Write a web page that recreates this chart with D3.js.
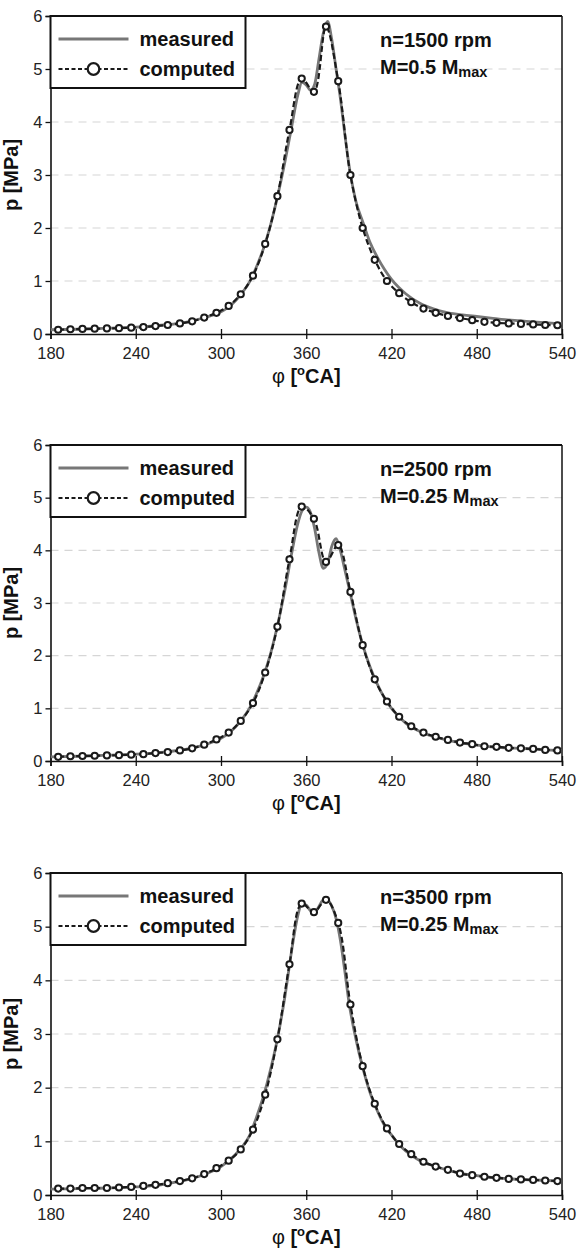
<!DOCTYPE html>
<html lang="en">
<head>
  <meta charset="UTF-8" />
  <title>Cylinder pressure: measured vs computed</title>
  <script src="https://d3js.org/d3.v7.min.js"></script>
  <style>
    body { margin: 0; background: #fff; font-family: "Liberation Sans", Arial, sans-serif; }
    .tick text { font-size: 16.5px; fill: #222; }
    .grid line { stroke: #d6d6d6; stroke-dasharray: 8,6; stroke-width: 1.2; }
    .lbl { font-weight: bold; font-size: 20px; fill: #111; }
  </style>
</head>
<body>
  <svg width="577" height="1257"></svg>
  <script>
    // crank angle ticks and pressure ticks
    const xTicks = [180, 240, 300, 360, 420, 480, 540];
    const yTicks = [0, 1, 2, 3, 4, 5, 6];

    // angles of the computed points (markers)
    const compAngles = [185.4, 194.0, 202.5, 211.1, 219.7, 228.2, 236.8, 245.4, 253.9, 262.5,
      271.1, 279.7, 288.2, 296.8, 305.4, 313.9, 322.5, 331.1, 339.7, 348.2,
      356.8, 365.4, 373.9, 382.5, 391.1, 399.7, 408.2, 416.8, 425.4, 433.9,
      442.5, 451.1, 459.7, 468.2, 476.8, 485.4, 493.9, 502.5, 511.1, 519.7, 528.2, 536.8];

    // angles of the measured trace
    const measAngles = [180, 200, 220, 240, 260, 270, 280, 290, 300, 305,
      310, 315, 320, 325, 330, 335, 340, 345, 350, 354,
      357, 360, 363, 366, 369, 372, 375, 378, 381, 384,
      387, 390, 395, 400, 405, 410, 415, 420, 425, 430,
      440, 450, 460, 470, 480, 490, 500, 510, 520, 530, 540];

    // n=1500 rpm, M=0.5 Mmax
    const computed1500 = [0.08, 0.09, 0.095, 0.1, 0.105, 0.11, 0.12, 0.13, 0.15, 0.17,
      0.2, 0.24, 0.31, 0.4, 0.53, 0.75, 1.1, 1.7, 2.6, 3.85,
      4.82, 4.57, 5.8, 4.77, 3.0, 2.0, 1.4, 1.0, 0.77, 0.6,
      0.48, 0.4, 0.34, 0.3, 0.26, 0.23, 0.21, 0.2, 0.19, 0.18, 0.17, 0.165];
    const measured1500 = [0.08, 0.09, 0.11, 0.13, 0.17, 0.2, 0.25, 0.32, 0.42, 0.5,
      0.62, 0.78, 0.98, 1.27, 1.62, 2.07, 2.62, 3.25, 3.95, 4.5,
      4.75, 4.7, 4.6, 4.72, 5.2, 5.68, 5.9, 5.55, 5.0, 4.45,
      3.8, 3.2, 2.5, 2.1, 1.72, 1.45, 1.22, 1.03, 0.88, 0.76,
      0.58, 0.47, 0.4, 0.36, 0.33, 0.3, 0.27, 0.25, 0.23, 0.21, 0.19];

    // n=2500 rpm, M=0.25 Mmax
    const computed2500 = [0.08, 0.09, 0.095, 0.1, 0.105, 0.11, 0.12, 0.13, 0.15, 0.17,
      0.2, 0.24, 0.31, 0.41, 0.54, 0.76, 1.1, 1.68, 2.55, 3.83,
      4.83, 4.6, 3.78, 4.1, 3.21, 2.2, 1.55, 1.13, 0.84, 0.66,
      0.54, 0.46, 0.4, 0.35, 0.32, 0.28, 0.27, 0.25, 0.24, 0.23, 0.21, 0.2];
    const measured2500 = [0.08, 0.09, 0.11, 0.13, 0.17, 0.2, 0.25, 0.32, 0.43, 0.52,
      0.64, 0.8, 1.0, 1.28, 1.62, 2.05, 2.6, 3.25, 3.98, 4.5,
      4.75, 4.82, 4.72, 4.4, 3.95, 3.66, 3.75, 4.08, 4.22, 4.0,
      3.65, 3.3, 2.7, 2.18, 1.78, 1.46, 1.2, 1.0, 0.85, 0.72,
      0.56, 0.46, 0.39, 0.34, 0.3, 0.27, 0.25, 0.24, 0.23, 0.21, 0.2];

    // n=3500 rpm, M=0.25 Mmax
    const computed3500 = [0.12, 0.12, 0.13, 0.13, 0.13, 0.14, 0.15, 0.17, 0.19, 0.22,
      0.26, 0.31, 0.39, 0.5, 0.64, 0.85, 1.22, 1.87, 2.9, 4.3,
      5.43, 5.27, 5.5, 5.07, 3.55, 2.4, 1.7, 1.24, 0.95, 0.76,
      0.62, 0.53, 0.47, 0.4, 0.37, 0.34, 0.32, 0.3, 0.29, 0.28, 0.27, 0.26];
    const measured3500 = [0.11, 0.12, 0.13, 0.15, 0.2, 0.25, 0.31, 0.4, 0.53, 0.63,
      0.75, 0.9, 1.1, 1.45, 1.85, 2.35, 2.95, 3.7, 4.6, 5.2,
      5.43, 5.4, 5.3, 5.27, 5.38, 5.5, 5.5, 5.38, 5.15, 4.75,
      4.2, 3.6, 2.9, 2.35, 1.9, 1.57, 1.3, 1.12, 0.95, 0.82,
      0.64, 0.54, 0.46, 0.4, 0.36, 0.33, 0.31, 0.29, 0.28, 0.27, 0.26];

    const panels = [
      { top: 16, bottom: 334, rpm: "n=1500 rpm", load: "M=0.5 M", meas: measured1500, comp: computed1500 },
      { top: 445, bottom: 761, rpm: "n=2500 rpm", load: "M=0.25 M", meas: measured2500, comp: computed2500 },
      { top: 873, bottom: 1195, rpm: "n=3500 rpm", load: "M=0.25 M", meas: measured3500, comp: computed3500 }
    ];

    const svg = d3.select("svg");
    const left = 50.5, right = 562;
    const x = d3.scaleLinear().domain([180, 540]).range([left, right]);

    panels.forEach((p, k) => {
      const y = d3.scaleLinear().domain([0, 6]).range([p.bottom, p.top]);
      const g = svg.append("g");

      g.append("clipPath").attr("id", "clip" + k)
        .append("rect").attr("x", left).attr("y", p.top - 10)
        .attr("width", right - left + 2).attr("height", p.bottom - p.top + 10);

      // dashed grid
      g.append("g").attr("class", "grid")
        .selectAll("line").data(yTicks.slice(1, 6)).join("line")
        .attr("x1", left).attr("x2", right)
        .attr("y1", d => y(d)).attr("y2", d => y(d));

      // frame top and right
      g.append("line").attr("x1", left).attr("x2", right).attr("y1", p.top).attr("y2", p.top)
        .attr("stroke", "#111").attr("stroke-width", 2);
      g.append("line").attr("x1", right).attr("x2", right).attr("y1", p.top).attr("y2", p.bottom)
        .attr("stroke", "#111").attr("stroke-width", 1.5);

      // axes
      const yAxis = g.append("g").attr("transform", `translate(${left},0)`)
        .call(d3.axisLeft(y).tickValues(yTicks).tickSize(5).tickPadding(3).tickFormat(d3.format("d")));
      const xAxis = g.append("g").attr("transform", `translate(0,${p.bottom})`)
        .call(d3.axisBottom(x).tickValues(xTicks).tickSize(5).tickPadding(4).tickFormat(d3.format("d")));
      xAxis.selectAll(".tick line").attr("y1", -5);
      [yAxis, xAxis].forEach(a => {
        a.select(".domain").attr("stroke", "#111").attr("stroke-width", 1.6);
        a.selectAll(".tick line").attr("stroke", "#111").attr("stroke-width", 1.3);
      });
      xAxis.selectAll(".tick text").attr("dy", "0.95em");

      const plot = g.append("g").attr("clip-path", `url(#clip${k})`);

      // measured trace
      plot.append("path")
        .datum(measAngles.map((a, i) => [a, p.meas[i]]))
        .attr("fill", "none").attr("stroke", "#777").attr("stroke-width", 2.8)
        .attr("d", d3.line().x(d => x(d[0])).y(d => y(d[1])).curve(d3.curveMonotoneX));

      // computed trace
      const comp = compAngles.map((a, i) => [a, p.comp[i]]);
      plot.append("path")
        .datum(comp)
        .attr("fill", "none").attr("stroke", "#1a1a1a").attr("stroke-width", 2.2)
        .attr("stroke-dasharray", "6,3")
        .attr("d", d3.line().x(d => x(d[0])).y(d => y(d[1])).curve(d3.curveCatmullRom));
      plot.selectAll("circle").data(comp).join("circle")
        .attr("cx", d => x(d[0])).attr("cy", d => y(d[1])).attr("r", 3.1)
        .attr("fill", "#fff").attr("stroke", "#1a1a1a").attr("stroke-width", 2);

      // legend
      const lg = g.append("g").attr("transform", `translate(${left},${p.top})`);
      lg.append("rect").attr("x", 0).attr("y", 0).attr("width", 195).attr("height", 72)
        .attr("fill", "#fff").attr("stroke", "#111").attr("stroke-width", 2);
      lg.append("line").attr("x1", 8).attr("x2", 78).attr("y1", 23).attr("y2", 23)
        .attr("stroke", "#777").attr("stroke-width", 2.8);
      lg.append("line").attr("x1", 8).attr("x2", 78).attr("y1", 53).attr("y2", 53)
        .attr("stroke", "#1a1a1a").attr("stroke-width", 2.2).attr("stroke-dasharray", "4,2.5");
      lg.append("circle").attr("cx", 43).attr("cy", 53).attr("r", 5.8)
        .attr("fill", "#fff").attr("stroke", "#1a1a1a").attr("stroke-width", 2.2);
      lg.append("text").attr("class", "lbl").attr("x", 89).attr("y", 30).text("measured");
      lg.append("text").attr("class", "lbl").attr("x", 89).attr("y", 60).text("computed");

      // operating point
      g.append("text").attr("class", "lbl").attr("x", 380).attr("y", p.top + 31).text(p.rpm);
      const t = g.append("text").attr("class", "lbl").attr("x", 380).attr("y", p.top + 58).text(p.load);
      t.append("tspan").attr("font-size", "14.5px").attr("dy", 3).text("max");

      // axis titles
      const xt = g.append("text").attr("class", "lbl").attr("text-anchor", "middle")
        .attr("x", (left + right) / 2).attr("y", p.bottom + 49);
      xt.append("tspan").attr("font-weight", "normal").text("φ ");
      xt.append("tspan").text("[");
      xt.append("tspan").attr("font-size", "13px").attr("dy", -8).text("o");
      xt.append("tspan").attr("dy", 8).text("CA]");

      g.append("text").attr("class", "lbl").attr("text-anchor", "middle")
        .attr("transform", `translate(18,${(p.top + p.bottom) / 2}) rotate(-90)`)
        .text("p [MPa]");
    });
  </script>
</body>
</html>
